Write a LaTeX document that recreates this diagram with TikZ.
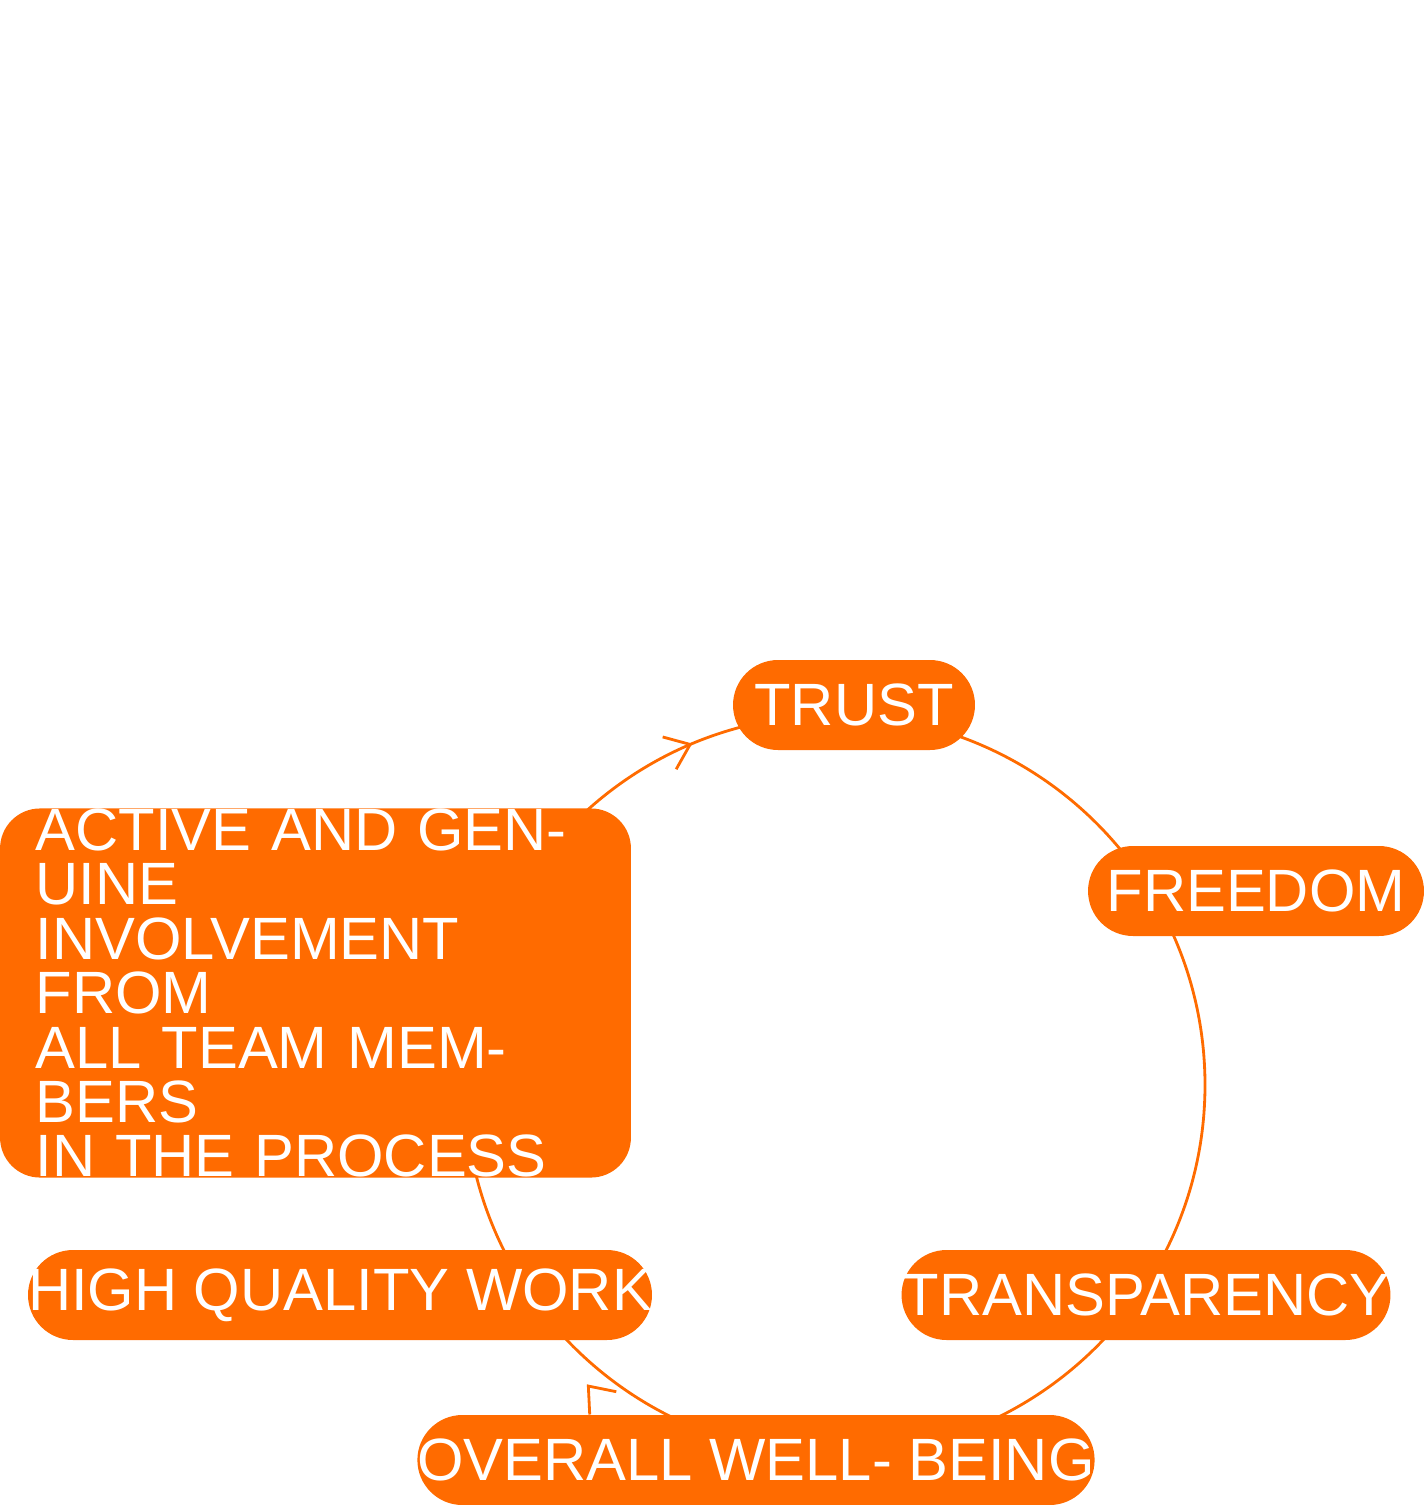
\documentclass[tikz,border=0pt]{standalone}
\usepackage{fontspec}
\setmainfont{Liberation Sans}
\usetikzlibrary{arrows.meta,decorations.markings}
\definecolor{brand}{HTML}{FF6B00}
\tikzset{
  pill/.style={fill=brand,text=white,rounded corners=0.9cm,minimum height=1.8cm,
    inner sep=0pt,font=\fontsize{34}{40}\selectfont},
  cyc/.tip={Straight Barb[length=0.45cm,width=0.7cm,line width=1.6pt]},
}
\begin{document}
\begin{tikzpicture}[x=0.02cm,y=-0.02cm]
   \useasboundingbox (0,0) rectangle (1426,1505);
   % the cycle
   \draw[brand,line width=1.6pt,postaction={decorate},decoration={markings,
     mark=at position 0.937 with {\arrow{cyc}},
     mark=at position 0.261 with {\arrow{cyc}},
     mark=at position 0.608 with {\arrow{cyc}}}]
    (835,715) arc[start angle=-90,end angle=270,radius=370];
   \node[pill,minimum width=4.84cm] (trust) at (854,705) {TRUST};
   \node[pill,minimum width=6.72cm] (freedom) at (1256,891) {FREEDOM};
   \node[pill,minimum width=9.78cm] (transp) at (1146,1295) {TRANSPARENCY};
   \node[pill,minimum width=13.04cm] (wellb) at (756,1460) {OVERALL WELL- BEING};
   \node[pill,minimum width=12.28cm] (quality) at (340,1295) {HIGH QUALITY WORK};
   \node[fill=brand,text=white,rounded corners=0.8cm,minimum width=12.62cm,
     minimum height=5.88cm,inner sep=0pt,text width=11.2cm,align=left,
     font=\fontsize{34}{31}\selectfont] (involve) at (315.5,993)
     {ACTIVE AND GENUINE\\INVOLVEMENT FROM\\ALL TEAM MEMBERS\\IN THE PROCESS};
  \end{tikzpicture}
\end{document}
